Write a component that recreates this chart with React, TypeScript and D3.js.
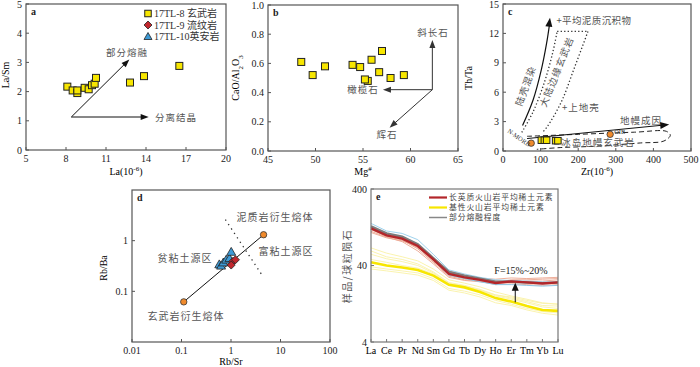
import React from 'react'
import * as d3 from 'd3'

// ---------- data ----------
// a: La (ppm) vs La/Sm
const aLa = [8.1, 8.5, 8.85, 8.85, 9.4, 9.7, 9.95, 10.15, 10.25, 12.8, 13.85, 16.5]
const aLaSm = [2.17, 2.04, 1.95, 2.04, 2.13, 2.08, 2.22, 2.27, 2.47, 2.31, 2.53, 2.88]

// b: Mg# vs CaO/Al2O3
const bMg = [48.5, 49.7, 51.0, 53.9, 54.7, 55.5, 55.2, 55.9, 56.7, 57.0, 57.9, 59.3]
const bCaAl = [0.61, 0.52, 0.58, 0.59, 0.575, 0.48, 0.49, 0.625, 0.54, 0.685, 0.5, 0.52]

// c: Zr vs Th/Ta
const cZr = [102, 110, 116, 140, 146]
const cThTa = [1.1, 1.1, 1.1, 1.05, 1.05]
const cRefNames = ['N-MORB', 'OIB']
const cRefZr = [75, 285]
const cRefThTa = [0.8, 1.7]
const crustCurveZr = [52, 80, 102, 116, 125]
const crustCurveThTa = [2.6, 5.2, 8.3, 11, 13.6]
const marginLeftZr = [50, 80, 110, 132, 144]
const marginLeftThTa = [1.9, 4, 7, 10, 12.2]
const marginRightZr = [226, 190, 155, 118, 105]
const marginRightThTa = [12.2, 8.5, 5, 2.5, 1.9]
const icelandZr = [64, 200, 350, 435, 445, 428, 365, 241, 152, 90]
const icelandThTa = [1.5, 1.7, 1.92, 2.0, 1.6, 1.02, 0.82, 0.48, 0.35, 0.17]

// d: Rb/Sr vs Rb/Ba
const dTriRbSr = [0.58, 0.63, 0.7, 0.8, 0.93, 1.01]
const dTriRbBa = [0.34, 0.32, 0.37, 0.42, 0.45, 0.6]
const dDiaRbSr = [1.09, 1.23, 1.01]
const dDiaRbBa = [0.39, 0.42, 0.33]
const dMeltRbSr = [0.111, 4.55]
const dMeltRbBa = [0.062, 1.31]
const dDividerRbSr = [0.77, 4.4]
const dDividerRbBa = [2.6, 0.198]

// e: chondrite-normalised REE
const ree = ['La', 'Ce', 'Pr', 'Nd', 'Sm', 'Gd', 'Tb', 'Dy', 'Ho', 'Er', 'Tm', 'Yb', 'Lu']
const felsicMean = [122, 99, 90, 72, 48, 31, 28, 26, 23.6, 24.8, 24.1, 23.3, 24.1]
const maficMean = [44, 40, 37.6, 35, 29.5, 22.4, 20.7, 18, 15, 13.5, 11.8, 10.5, 10.2]
const meltGray = [130, 105, 95, 76, 50, 33, 29.5, 27, 24.5, 24.5, 24, 23.5, 24]
const meltBlue1 = [142, 113, 105, 87, 56, 35, 31, 28, 26, 25.5, 25, 24.5, 24]
const meltBlue2 = [128, 102, 92, 74, 47, 30, 27, 24.5, 22.5, 22.5, 22, 21.5, 22]
const felsicSamples = [
  [118, 96, 86, 66, 44, 29, 26, 25, 24, 26, 26, 26.5, 27],
  [112, 94, 82, 62, 42, 28, 25.5, 24.5, 23, 24.5, 25, 25, 26],
  [126, 102, 92, 74, 47, 30, 27, 25, 22.5, 23, 22.5, 22, 22.5],
  [108, 92, 84, 70, 45, 32, 29, 27, 26.5, 27.5, 27, 27.5, 28],
  [120, 100, 88, 68, 50, 34, 30, 27.5, 25, 25.5, 24.5, 24, 24],
]
const maficSamples = [
  [68, 58, 52, 46, 36, 26, 23.5, 21, 18, 16, 14.5, 13, 12.5],
  [62, 52, 48, 42, 33, 24, 22, 19.5, 16.5, 15, 13.5, 12, 11.8],
  [56, 49, 45, 40, 32, 23.5, 21.5, 19, 16, 14.5, 13, 11.5, 11],
  [38.5, 36, 34, 32, 27, 20, 18.5, 16.5, 14, 12.5, 11, 10, 9.6],
  [36, 34, 32, 30, 25.5, 19, 17.5, 15.5, 13, 12, 10.5, 9.5, 9],
  [48, 44, 40, 37, 31, 23, 21, 19, 16.5, 15.5, 14, 12.8, 12.5],
]

const SERIF = '"Liberation Serif", "Times New Roman", serif'
const CJK = '"Noto Sans CJK SC", sans-serif'
const LABEL = '#555'
const YELLOW = '#f7e600'

function arrowPts(x1: number, y1: number, x2: number, y2: number, len = 8, half = 3) {
  const a = Math.atan2(y2 - y1, x2 - x1)
  const bx = x2 - len * Math.cos(a)
  const by = y2 - len * Math.sin(a)
  const px = -Math.sin(a) * half
  const py = Math.cos(a) * half
  return `${x2},${y2} ${bx + px},${by + py} ${bx - px},${by - py}`
}

const Arrow = ({ x1, y1, x2, y2, color = '#111', len = 8, half = 3 }:
  { x1: number, y1: number, x2: number, y2: number, color?: string, len?: number, half?: number }) => {
  const a = Math.atan2(y2 - y1, x2 - x1)
  return (
    <g>
      <line x1={x1} y1={y1} x2={x2 - (len - 1) * Math.cos(a)} y2={y2 - (len - 1) * Math.sin(a)} stroke={color} strokeWidth={1} />
      <polygon points={arrowPts(x1, y1, x2, y2, len, half)} fill={color} />
    </g>
  )
}

const Axes = ({ x, y, xTicks, yTicks, xFmt = String, yFmt = String, label, stroke = '#555' }:
  { x: any, y: any, xTicks: any[], yTicks: number[], xFmt?: (v: any) => string, yFmt?: (v: number) => string, label: string, stroke?: string }) => {
  const [x0, x1] = x.range()
  const [y0, y1] = y.range()
  return (
    <g fontFamily={SERIF} fontSize={10} fill="#222">
      <rect x={x0} y={y1} width={x1 - x0} height={y0 - y1} fill="none" stroke={stroke} strokeWidth={1.2} />
      {xTicks.map((t, i) => (
        <g key={'x' + i}>
          <line x1={x(t)} x2={x(t)} y1={y0} y2={y0 - 3} stroke={stroke} />
          <text x={x(t)} y={y0 + 12} textAnchor="middle">{xFmt(t)}</text>
        </g>
      ))}
      {yTicks.map((t, i) => (
        <g key={'y' + i}>
          <line x1={x0} x2={x0 + 3} y1={y(t)} y2={y(t)} stroke={stroke} />
          <text x={x0 - 4} y={y(t) + 3.5} textAnchor="end">{yFmt(t)}</text>
        </g>
      ))}
      <text x={x0 + 5} y={y1 + 11} fontWeight="bold" fontSize={10}>{label}</text>
    </g>
  )
}

const Square = ({ cx, cy, s = 7 }: { cx: number, cy: number, s?: number }) => (
  <rect x={cx - s / 2} y={cy - s / 2} width={s} height={s} fill={YELLOW} stroke="#222" strokeWidth={1} />
)
const Diamond = ({ cx, cy, s = 4.5 }: { cx: number, cy: number, s?: number }) => (
  <polygon points={`${cx},${cy - s} ${cx + s},${cy} ${cx},${cy + s} ${cx - s},${cy}`} fill="#c1272d" stroke="#222" strokeWidth={0.8} />
)
const Tri = ({ cx, cy, s = 5 }: { cx: number, cy: number, s?: number }) => (
  <polygon points={`${cx},${cy - s} ${cx + s},${cy + s * 0.75} ${cx - s},${cy + s * 0.75}`} fill="#3d9ad6" stroke="#222" strokeWidth={0.8} />
)
const Dot = ({ cx, cy }: { cx: number, cy: number }) => (
  <circle cx={cx} cy={cy} r={3.2} fill="#f08a2c" stroke="#333" strokeWidth={0.8} />
)

const CjkText = ({ x, y, children, size = 9.5, anchor = 'middle', rotate = 0, fill = LABEL, spacing = 1 }:
  { x: number, y: number, children: any, size?: number, anchor?: string, rotate?: number, fill?: string, spacing?: number }) => (
  <text x={x} y={y} fontFamily={CJK} fontSize={size} fill={fill} textAnchor={anchor as any} letterSpacing={spacing}
    transform={rotate ? `rotate(${rotate},${x},${y})` : undefined}>{children}</text>
)

const PanelA = () => {
  const x = d3.scaleLinear().domain([5, 20]).range([26, 226])
  const y = d3.scaleLinear().domain([0, 5]).range([150, 4])
  const legend = [
    { name: '17TL-8 玄武岩', mark: 'sq' },
    { name: '17TL-9 流纹岩', mark: 'dia' },
    { name: '17TL-10英安岩', mark: 'tri' },
  ]
  return (
    <g>
      <Axes x={x} y={y} xTicks={[5, 8, 11, 14, 17, 20]} yTicks={[0, 1, 2, 3, 4, 5]} label="a" />
      <Arrow x1={x(8.4)} y1={y(1.13)} x2={x(12.75)} y2={y(3.1)} />
      <Arrow x1={x(8.4)} y1={y(1.13)} x2={x(14.2)} y2={y(1.13)} />
      <CjkText x={127} y={56}>部分熔融</CjkText>
      <CjkText x={176} y={121}>分离结晶</CjkText>
      {aLa.map((v, i) => <Square key={i} cx={x(v)} cy={y(aLaSm[i])} />)}
      {legend.map((l, i) => (
        <g key={i}>
          {l.mark === 'sq' && <Square cx={148} cy={13.5 + i * 11.5} s={6.5} />}
          {l.mark === 'dia' && <Diamond cx={148} cy={13.5 + i * 11.5} s={4} />}
          {l.mark === 'tri' && <Tri cx={148} cy={13.5 + i * 11.5} s={4} />}
          <text x={154} y={17 + i * 11.5} fontSize={10} fontFamily={`${SERIF}, ${CJK}`} fill="#333">{l.name}</text>
        </g>
      ))}
      <text x={9} y={75} transform="rotate(-90,9,75)" textAnchor="middle" fontFamily={SERIF} fontSize={10}>La/Sm</text>
      <text x={126} y={175} textAnchor="middle" fontFamily={SERIF} fontSize={10}>La(10<tspan fontSize={7} baselineShift="super">-6</tspan>)</text>
    </g>
  )
}

const PanelB = () => {
  const x = d3.scaleLinear().domain([45, 65]).range([268, 458])
  const y = d3.scaleLinear().domain([0, 1]).range([151, 5])
  const ox = x(62.3), oy = y(0.42)
  return (
    <g>
      <Axes x={x} y={y} xTicks={[45, 50, 55, 60, 65]} yTicks={[0, 0.2, 0.4, 0.6, 0.8, 1]} yFmt={(v) => v.toFixed(1)} label="b" />
      <Arrow x1={ox} y1={oy} x2={ox} y2={y(0.76)} color="#333" />
      <Arrow x1={ox} y1={oy} x2={x(57.1)} y2={oy} color="#333" />
      <Arrow x1={ox} y1={oy} x2={x(57.8)} y2={y(0.16)} color="#333" />
      <CjkText x={433} y={36}>斜长石</CjkText>
      <CjkText x={363} y={93}>橄榄石</CjkText>
      <CjkText x={387} y={138}>辉石</CjkText>
      {bMg.map((v, i) => <Square key={i} cx={x(v)} cy={y(bCaAl[i])} />)}
      <text x={239} y={78} transform="rotate(-90,239,78)" textAnchor="middle" fontFamily={SERIF} fontSize={10}>
        CaO/Al<tspan fontSize={7} baselineShift="sub">2</tspan>O<tspan fontSize={7} baselineShift="sub">3</tspan>
      </text>
      <text x={363} y={175} textAnchor="middle" fontFamily={SERIF} fontSize={10}>Mg<tspan fontSize={7} baselineShift="super">#</tspan></text>
    </g>
  )
}

const PanelC = () => {
  const x = d3.scaleLinear().domain([0, 500]).range([503, 691])
  const y = d3.scaleLinear().domain([0, 15]).range([151, 4])
  const path = (zr: number[], tt: number[]) =>
    d3.line<number>().x((_, i) => x(zr[i])).y((_, i) => y(tt[i])).curve(d3.curveCatmullRom)(zr) || ''
  const n = crustCurveZr.length
  const tipX = x(crustCurveZr[n - 1]), tipY = y(crustCurveThTa[n - 1])
  const preX = x(crustCurveZr[n - 2]), preY = y(crustCurveThTa[n - 2])
  return (
    <g>
      <Axes x={x} y={y} xTicks={[0, 100, 200, 300, 400, 500]} yTicks={[0, 3, 6, 9, 12, 15]} label="c" />
      <path d={path(crustCurveZr.slice(0, n - 1).concat([crustCurveZr[n - 1] - 1]), crustCurveThTa.slice(0, n - 1).concat([crustCurveThTa[n - 1] - 0.6]))} fill="none" stroke="#111" strokeWidth={1.2} />
      <polygon points={arrowPts(preX, preY, tipX, tipY, 9, 3.5)} fill="#111" />
      <path d={path(marginLeftZr, marginLeftThTa)} fill="none" stroke="#333" strokeWidth={1.3} strokeDasharray="1.3,2.2" />
      <path d={path(marginRightZr, marginRightThTa)} fill="none" stroke="#333" strokeWidth={1.3} strokeDasharray="1.3,2.2" />
      <line x1={x(144)} x2={x(226)} y1={y(12.2)} y2={y(12.2)} stroke="#333" strokeWidth={1.3} strokeDasharray="1.3,2.2" />
      <path d={path(icelandZr, icelandThTa)} fill="none" stroke="#222" strokeWidth={1} strokeDasharray="5,3" />
      <Arrow x1={x(64)} y1={y(1.27)} x2={x(442)} y2={y(2.7)} len={9} half={3.5} />
      <CjkText x={x(126) + 6} y={y(13.3) + 3} anchor="start" size={9.5} spacing={0.4}>+平均泥质沉积物</CjkText>
      <CjkText x={x(157)} y={y(4.5) + 4} anchor="start" size={9.5}>+上地壳</CjkText>
      <CjkText x={560} y={73} rotate={-68} size={9.5} spacing={1.2}>大陆边缘玄武岩</CjkText>
      <CjkText x={529} y={87} rotate={-70} size={9.5} spacing={1}>陆壳混染</CjkText>
      <CjkText x={641} y={124} size={9.5}>地幔成因</CjkText>
      <CjkText x={598} y={146} size={9.5}>冰岛地幔玄武岩</CjkText>
      {cZr.map((v, i) => <Square key={i} cx={x(v)} cy={y(cThTa[i])} s={6.5} />)}
      {cRefZr.map((v, i) => <Dot key={i} cx={x(v)} cy={y(cRefThTa[i])} />)}
      <text x={507} y={132} transform="rotate(35,507,132)" fontFamily={SERIF} fontSize={6.5} fill="#333">{cRefNames[0]}</text>
      <text x={x(cRefZr[1]) + 4} y={y(cRefThTa[1]) - 0.5} fontFamily={SERIF} fontSize={6.5} fill="#333">{cRefNames[1]}</text>
      <text x={472} y={78} transform="rotate(-90,472,78)" textAnchor="middle" fontFamily={SERIF} fontSize={10}>Th/Ta</text>
      <text x={597} y={175} textAnchor="middle" fontFamily={SERIF} fontSize={10}>Zr(10<tspan fontSize={7} baselineShift="super">-6</tspan>)</text>
    </g>
  )
}

const PanelD = () => {
  const x = d3.scaleLog().domain([0.01, 100]).range([132, 330])
  const y = d3.scaleLog().domain([0.01, 10]).range([342, 190])
  return (
    <g>
      <Axes x={x} y={y} xTicks={[0.01, 0.1, 1, 10, 100]} yTicks={[0.1, 1]} label="d" />
      <line x1={x(dDividerRbSr[0])} y1={y(dDividerRbBa[0])} x2={x(dDividerRbSr[1])} y2={y(dDividerRbBa[1])}
        stroke="#333" strokeWidth={1.3} strokeDasharray="1.3,4" />
      <line x1={x(dMeltRbSr[0])} y1={y(dMeltRbBa[0])} x2={x(dMeltRbSr[1])} y2={y(dMeltRbBa[1])} stroke="#111" strokeWidth={1} />
      {dMeltRbSr.map((v, i) => <Dot key={i} cx={x(v)} cy={y(dMeltRbBa[i])} />)}
      {dTriRbSr.map((v, i) => <Tri key={i} cx={x(v)} cy={y(dTriRbBa[i])} s={4.5} />)}
      {dDiaRbSr.map((v, i) => <Diamond key={i} cx={x(v)} cy={y(dDiaRbBa[i])} s={4} />)}
      <CjkText x={275} y={221} size={10}>泥质岩衍生熔体</CjkText>
      <CjkText x={286} y={255} size={10}>富粘土源区</CjkText>
      <CjkText x={185} y={262} size={10}>贫粘土源区</CjkText>
      <CjkText x={186} y={320} size={10}>玄武岩衍生熔体</CjkText>
      <text x={107} y={268} transform="rotate(-90,107,268)" textAnchor="middle" fontFamily={SERIF} fontSize={10}>Rb/Ba</text>
      <text x={231} y={365} textAnchor="middle" fontFamily={SERIF} fontSize={10}>Rb/Sr</text>
    </g>
  )
}

const PanelE = () => {
  const x = d3.scalePoint<string>().domain(ree).range([371, 558])
  const y = d3.scaleLog().domain([4, 400]).range([342, 189])
  const line = d3.line<number>().x((_, i) => x(ree[i]) as number).y((d) => y(d))
  const legend = [
    { name: '长英质火山岩平均稀土元素', color: '#b3262a' },
    { name: '基性火山岩平均稀土元素', color: YELLOW },
    { name: '部分熔融程度', color: '#888' },
  ]
  const ax = (x('Er') as number) + 4
  return (
    <g>
      {maficSamples.map((s, i) => <path key={'m' + i} d={line(s) || ''} fill="none" stroke="#f9f2a6" strokeWidth={0.9} />)}
      {felsicSamples.map((s, i) => <path key={'f' + i} d={line(s) || ''} fill="none" stroke="#eba58f" strokeWidth={0.9} />)}
      <path d={line(meltBlue1) || ''} fill="none" stroke="#9fd3ee" strokeWidth={1} />
      <path d={line(meltBlue2) || ''} fill="none" stroke="#8cc6e6" strokeWidth={1} />
      <path d={line(meltGray) || ''} fill="none" stroke="#7d7d7d" strokeWidth={2.4} />
      <path d={line(felsicMean) || ''} fill="none" stroke="#b3262a" strokeWidth={2.4} />
      <path d={line(maficMean) || ''} fill="none" stroke={YELLOW} strokeWidth={2.6} />
      <Arrow x1={ax} y1={y(13.2)} x2={ax} y2={y(23.8)} len={8} half={3.5} />
      <text x={521} y={274} textAnchor="middle" fontFamily={SERIF} fontSize={10} fill="#222">F=15%~20%</text>
      <Axes x={{ range: () => [371, 558] } as any} y={y} xTicks={[]} yTicks={[4, 40, 400]} label="e" stroke="#777" />
      {ree.map((r) => (
        <g key={r}>
          <line x1={x(r)} x2={x(r)} y1={342} y2={339} stroke="#777" />
          <text x={x(r)} y={354} textAnchor="middle" fontFamily={SERIF} fontSize={10}>{r}</text>
        </g>
      ))}
      {legend.map((l, i) => (
        <g key={i}>
          <line x1={429} x2={447} y1={197.5 + i * 10} y2={197.5 + i * 10} stroke={l.color} strokeWidth={i === 2 ? 1.5 : 2.2} />
          <CjkText x={449} y={200.3 + i * 10} anchor="start" size={7.8} spacing={0.9} fill="#444">{l.name}</CjkText>
        </g>
      ))}
      <CjkText x={351} y={266} rotate={-90} size={10} spacing={1.5}>样品/球粒陨石</CjkText>
    </g>
  )
}

export default function App() {
  return (
    <svg width={700} height={367} style={{ position: 'absolute', left: 0, top: 0, background: '#fff' }}>
      <PanelA />
      <PanelB />
      <PanelC />
      <PanelD />
      <PanelE />
    </svg>
  )
}
